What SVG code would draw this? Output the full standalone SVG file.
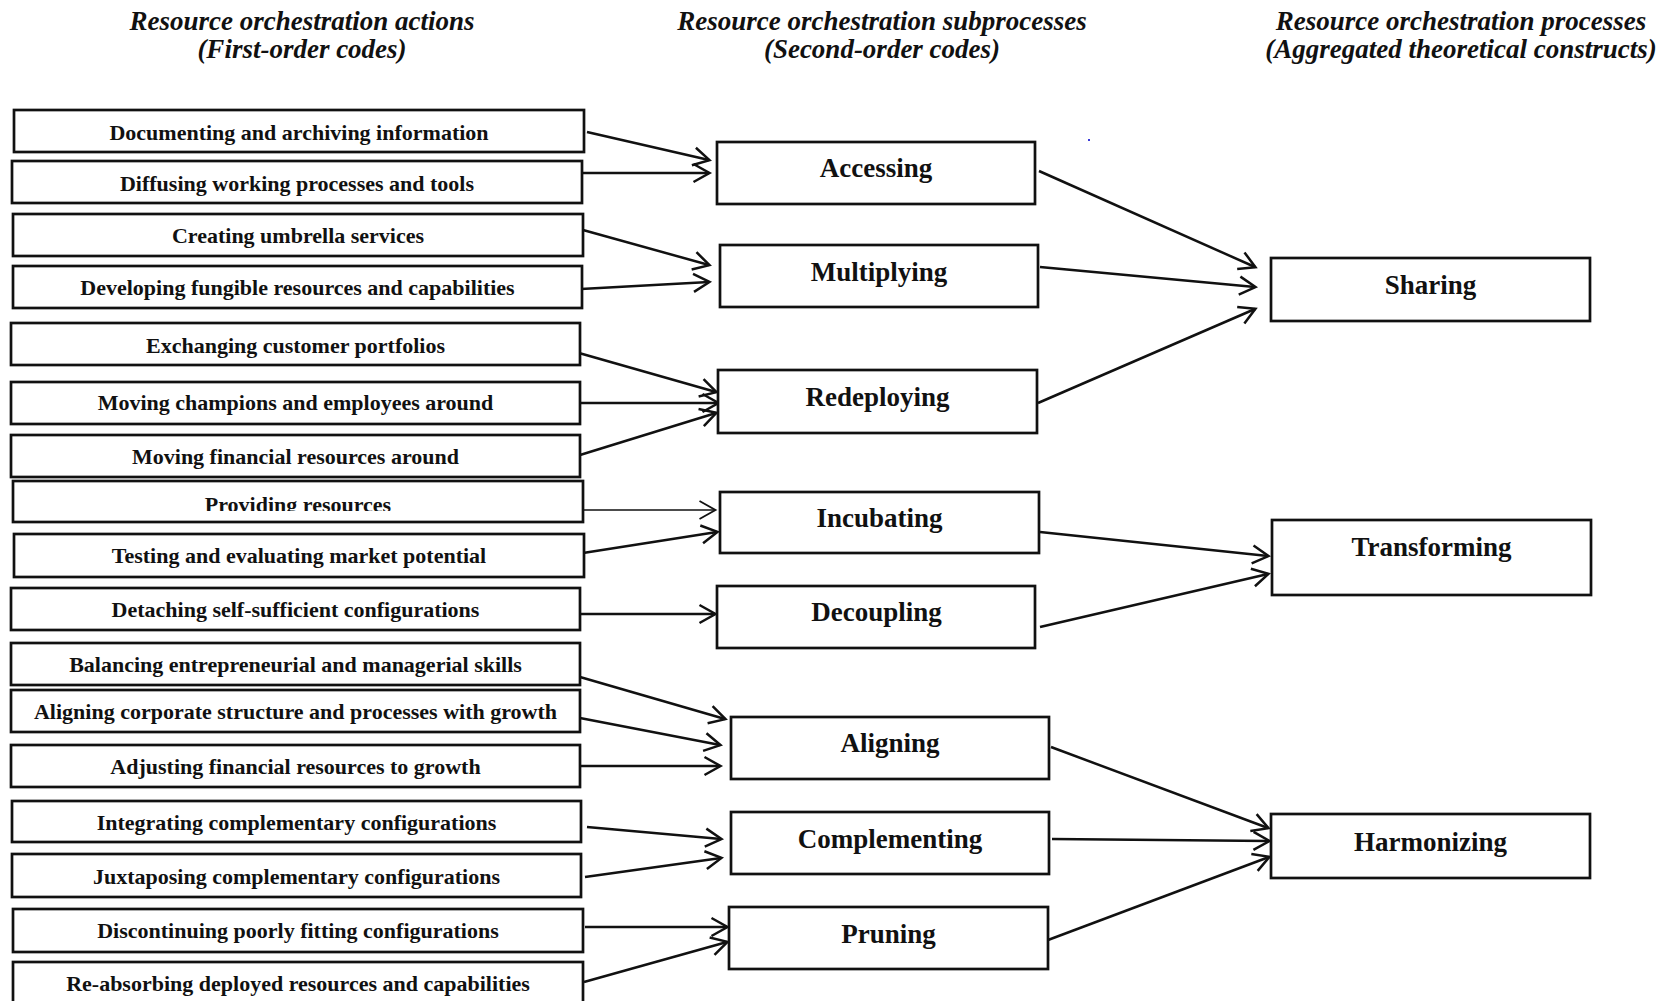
<svg xmlns="http://www.w3.org/2000/svg" width="1669" height="1001" viewBox="0 0 1669 1001">
<style>
  .bx { fill: #fff; stroke: #111; stroke-width: 2.7; }
  .t1 { font-family: "Liberation Serif", "Times New Roman", serif; font-weight: bold; font-size: 22px; text-anchor: middle; fill: #111; }
  .t2 { font-family: "Liberation Serif", "Times New Roman", serif; font-weight: bold; font-size: 27px; text-anchor: middle; fill: #111; }
  .hd { font-family: "Liberation Serif", "Times New Roman", serif; font-weight: bold; font-style: italic; font-size: 27px; text-anchor: middle; fill: #111; }
  .ln { stroke: #111; stroke-width: 2.5; fill: none; marker-end: url(#ah); }
  .lt { stroke: #111; stroke-width: 1.6; fill: none; marker-end: url(#aht); }
</style>
<defs>
  <marker id="ah" markerUnits="userSpaceOnUse" viewBox="0 0 20 20" markerWidth="20" markerHeight="20" refX="16.5" refY="10" orient="auto" overflow="visible">
    <path d="M1,1 L17,10 L1,19" fill="none" stroke="#111" stroke-width="2.5"/>
  </marker>
  <marker id="aht" markerUnits="userSpaceOnUse" viewBox="0 0 20 20" markerWidth="20" markerHeight="20" refX="16.5" refY="10" orient="auto" overflow="visible">
    <path d="M1,1 L17,10 L1,19" fill="none" stroke="#111" stroke-width="1.8"/>
  </marker>
  <clipPath id="clipProv"><rect x="13" y="481" width="570" height="30"/></clipPath>
</defs>
<rect width="1669" height="1001" fill="#fff"/>

<g id="headers">
  <text class="hd" x="302" y="30">Resource orchestration actions</text>
  <text class="hd" x="302" y="58">(First-order codes)</text>
  <text class="hd" x="882" y="30">Resource orchestration subprocesses</text>
  <text class="hd" x="882" y="58">(Second-order codes)</text>
  <text class="hd" x="1461" y="30">Resource orchestration processes</text>
  <text class="hd" x="1461" y="58">(Aggregated theoretical constructs)</text>
</g>

<g id="connectors">
  <line class="ln" x1="587" y1="132" x2="709" y2="160"/>
  <line class="ln" x1="582" y1="173" x2="709" y2="173"/>
  <line class="ln" x1="583" y1="230" x2="709" y2="265"/>
  <line class="ln" x1="581" y1="289" x2="709" y2="282"/>
  <line class="ln" x1="579" y1="353" x2="716" y2="392"/>
  <line class="ln" x1="580" y1="403" x2="718" y2="403"/>
  <line class="ln" x1="580" y1="455" x2="716" y2="413"/>
  <line class="lt" x1="583" y1="510" x2="715" y2="510"/>
  <line class="ln" x1="583" y1="553" x2="717" y2="532"/>
  <line class="ln" x1="580" y1="614" x2="715" y2="614"/>
  <line class="ln" x1="580" y1="677" x2="725" y2="719"/>
  <line class="ln" x1="580" y1="718" x2="720" y2="745"/>
  <line class="ln" x1="580" y1="766" x2="720" y2="766"/>
  <line class="ln" x1="587" y1="827" x2="721" y2="839"/>
  <line class="ln" x1="585" y1="877" x2="721" y2="858"/>
  <line class="ln" x1="585" y1="927" x2="727" y2="927"/>
  <line class="ln" x1="584" y1="982" x2="727" y2="942"/>
  <line class="ln" x1="1039" y1="171" x2="1255" y2="267"/>
  <line class="ln" x1="1040" y1="267" x2="1255" y2="287"/>
  <line class="ln" x1="1038" y1="403" x2="1255" y2="309"/>
  <line class="ln" x1="1040" y1="532" x2="1268" y2="556"/>
  <line class="ln" x1="1040" y1="627" x2="1268" y2="574"/>
  <line class="ln" x1="1051" y1="747" x2="1268" y2="828"/>
  <line class="ln" x1="1052" y1="839" x2="1269" y2="841"/>
  <line class="ln" x1="1048" y1="940" x2="1269" y2="857"/>
</g>

<g id="n-documenting"><rect class="bx" x="14" y="110" width="570" height="42"/><text class="t1" x="299" y="140">Documenting and archiving information</text></g>
<g id="n-diffusing"><rect class="bx" x="12" y="161" width="570" height="42"/><text class="t1" x="297" y="191">Diffusing working processes and tools</text></g>
<g id="n-creating"><rect class="bx" x="13" y="214" width="570" height="42"/><text class="t1" x="298" y="243">Creating umbrella services</text></g>
<g id="n-developing"><rect class="bx" x="13" y="266" width="569" height="42"/><text class="t1" x="297.5" y="295">Developing fungible resources and capabilities</text></g>
<g id="n-exchanging"><rect class="bx" x="11" y="323" width="569" height="42"/><text class="t1" x="295.5" y="353">Exchanging customer portfolios</text></g>
<g id="n-moving-champions"><rect class="bx" x="11" y="382" width="569" height="42"/><text class="t1" x="295.5" y="410">Moving champions and employees around</text></g>
<g id="n-moving-financial"><rect class="bx" x="11" y="435" width="569" height="42"/><text class="t1" x="295.5" y="464">Moving financial resources around</text></g>
<g id="n-providing"><rect class="bx" x="13" y="481" width="570" height="41"/><text class="t1" x="298" y="512" clip-path="url(#clipProv)">Providing resources</text></g>
<g id="n-testing"><rect class="bx" x="14" y="534" width="570" height="43"/><text class="t1" x="299" y="563">Testing and evaluating market potential</text></g>
<g id="n-detaching"><rect class="bx" x="11" y="588" width="569" height="42"/><text class="t1" x="295.5" y="617">Detaching self-sufficient configurations</text></g>
<g id="n-balancing"><rect class="bx" x="11" y="643" width="569" height="42"/><text class="t1" x="295.5" y="672">Balancing entrepreneurial and managerial skills</text></g>
<g id="n-aligning-corporate"><rect class="bx" x="11" y="690" width="569" height="42"/><text class="t1" x="295.5" y="719">Aligning corporate structure and processes with growth</text></g>
<g id="n-adjusting"><rect class="bx" x="11" y="745" width="569" height="42"/><text class="t1" x="295.5" y="774">Adjusting financial resources to growth</text></g>
<g id="n-integrating"><rect class="bx" x="12" y="801" width="569" height="41"/><text class="t1" x="296.5" y="830">Integrating complementary configurations</text></g>
<g id="n-juxtaposing"><rect class="bx" x="12" y="854" width="569" height="43"/><text class="t1" x="296.5" y="884">Juxtaposing complementary configurations</text></g>
<g id="n-discontinuing"><rect class="bx" x="13" y="909" width="570" height="43"/><text class="t1" x="298" y="938">Discontinuing poorly fitting configurations</text></g>
<g id="n-reabsorbing"><rect class="bx" x="13" y="962" width="570" height="50"/><text class="t1" x="298" y="991">Re-absorbing deployed resources and capabilities</text></g>

<g id="n-accessing"><rect class="bx" x="717" y="142" width="318" height="62"/><text class="t2" x="876" y="177">Accessing</text></g>
<g id="n-multiplying"><rect class="bx" x="720" y="245" width="318" height="62"/><text class="t2" x="879" y="281">Multiplying</text></g>
<g id="n-redeploying"><rect class="bx" x="718" y="370" width="319" height="63"/><text class="t2" x="877.5" y="406">Redeploying</text></g>
<g id="n-incubating"><rect class="bx" x="720" y="492" width="319" height="61"/><text class="t2" x="879.5" y="527">Incubating</text></g>
<g id="n-decoupling"><rect class="bx" x="717" y="586" width="318" height="62"/><text class="t2" x="876.5" y="621">Decoupling</text></g>
<g id="n-aligning"><rect class="bx" x="731" y="717" width="318" height="62"/><text class="t2" x="890" y="752">Aligning</text></g>
<g id="n-complementing"><rect class="bx" x="731" y="812" width="318" height="62"/><text class="t2" x="890" y="848">Complementing</text></g>
<g id="n-pruning"><rect class="bx" x="729" y="907" width="319" height="62"/><text class="t2" x="888.5" y="943">Pruning</text></g>

<g id="n-sharing"><rect class="bx" x="1271" y="258" width="319" height="63"/><text class="t2" x="1430.5" y="294">Sharing</text></g>
<g id="n-transforming"><rect class="bx" x="1272" y="520" width="319" height="75"/><text class="t2" x="1431.5" y="556">Transforming</text></g>
<g id="n-harmonizing"><rect class="bx" x="1271" y="814" width="319" height="64"/><text class="t2" x="1430.5" y="851">Harmonizing</text></g>

<rect x="1088" y="139" width="2" height="2" fill="#3a3ad8"/>
</svg>
